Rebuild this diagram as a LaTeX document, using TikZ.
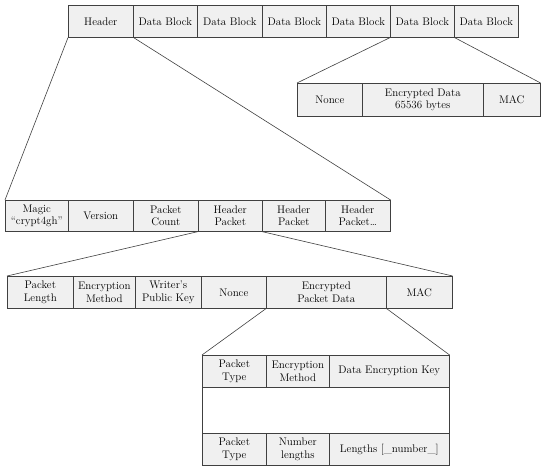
\documentclass[tikz,border=0pt]{standalone}
\tikzset{
  cell/.style={draw=black!75, fill=gray!12, line width=0.6pt, anchor=north west,
    inner sep=0pt, align=center, font=\fontsize{11}{12.5}\selectfont},
  link/.style={draw=black!75, line width=0.6pt}
}
\begin{document}
\begin{tikzpicture}[x=1pt,y=-1pt]
\useasboundingbox (0,0) rectangle (550,471);
% file
\node[cell, minimum width=65, minimum height=32] (hdr) at (68,5) {Header};
\node[cell, minimum width=64, minimum height=32] (db1) at (133,5) {Data Block};
\node[cell, minimum width=65, minimum height=32] (db2) at (197,5) {Data Block};
\node[cell, minimum width=64, minimum height=32] (db3) at (262,5) {Data Block};
\node[cell, minimum width=64, minimum height=32] (db4) at (326,5) {Data Block};
\node[cell, minimum width=64, minimum height=32] (db5) at (390,5) {Data Block};
\node[cell, minimum width=64, minimum height=32] (db6) at (454,5) {Data Block};
% data block
\node[cell, minimum width=65, minimum height=33] (dnonce) at (297,83) {Nonce};
\node[cell, minimum width=121, minimum height=33] (ddata) at (362,83) {Encrypted Data\\65536 bytes};
\node[cell, minimum width=57, minimum height=33] (dmac) at (483,83) {MAC};
\draw[link] (db5.south west) -- (dnonce.north west);
\draw[link] (db5.south east) -- (dmac.north east);
% header
\node[cell, minimum width=63, minimum height=31] (magic) at (5,200) {Magic\\``crypt4gh''};
\node[cell, minimum width=65, minimum height=31] (version) at (68,200) {Version};
\node[cell, minimum width=65, minimum height=31] (count) at (133,200) {Packet\\Count};
\node[cell, minimum width=64, minimum height=31] (hp1) at (198,200) {Header\\Packet};
\node[cell, minimum width=63, minimum height=31] (hp2) at (262,200) {Header\\Packet};
\node[cell, minimum width=65, minimum height=31] (hp3) at (325,200) {Header\\Packet\dots};
\draw[link] (hdr.south west) -- (magic.north west);
\draw[link] (hdr.south east) -- (hp3.north east);
% header packet
\node[cell, minimum width=66, minimum height=32] (plen) at (7,276) {Packet\\Length};
\node[cell, minimum width=62, minimum height=32] (pmeth) at (73,276) {Encryption\\Method};
\node[cell, minimum width=66, minimum height=32] (pkey) at (135,276) {Writer's\\Public Key};
\node[cell, minimum width=65, minimum height=32] (pnonce) at (201,276) {Nonce};
\node[cell, minimum width=120, minimum height=32] (pdata) at (266,276) {Encrypted\\Packet Data};
\node[cell, minimum width=66, minimum height=32] (pmac) at (386,276) {MAC};
\draw[link] (hp1.south west) -- (plen.north west);
\draw[link] (hp2.south west) -- (pmac.north east);
% encrypted packet data
\node[cell, minimum width=64, minimum height=32] (etype) at (202,355) {Packet\\Type};
\node[cell, minimum width=63, minimum height=32] (emeth) at (266,355) {Encryption\\Method};
\node[cell, minimum width=120, minimum height=32] (ekey) at (329,355) {Data Encryption Key};
\node[cell, fill=white, minimum width=247, minimum height=46] (egap) at (202,387) {};
\node[cell, minimum width=64, minimum height=32] (ltype) at (202,433) {Packet\\Type};
\node[cell, minimum width=63, minimum height=32] (lnum) at (266,433) {Number\\lengths};
\node[cell, minimum width=120, minimum height=32] (llen) at (329,433) {Lengths [\_number\_]};
\draw[link] (pdata.south west) -- (etype.north west);
\draw[link] (pdata.south east) -- (ekey.north east);
\end{tikzpicture}
\end{document}
